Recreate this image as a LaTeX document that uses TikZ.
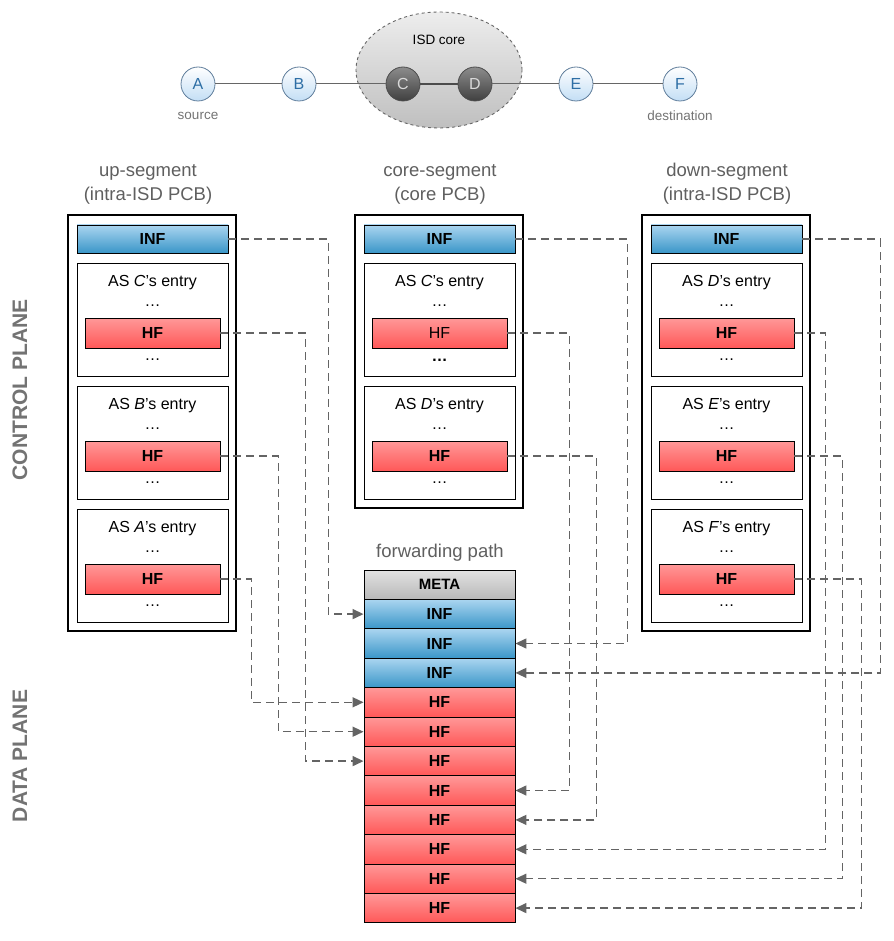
\documentclass[tikz,border=0pt]{standalone}
\usepackage{fontspec}
\setmainfont{Liberation Sans}
\usetikzlibrary{shapes.geometric,arrows.meta}
\definecolor{infTop}{RGB}{170,213,240}
\definecolor{infBot}{RGB}{58,150,200}
\definecolor{hfTop}{RGB}{255,152,152}
\definecolor{hfBot}{RGB}{255,88,88}
\definecolor{metaTop}{RGB}{226,226,226}
\definecolor{metaBot}{RGB}{184,184,184}
\definecolor{hdrGray}{RGB}{95,95,95}
\definecolor{planeGray}{RGB}{115,115,115}
\definecolor{connGray}{RGB}{100,100,100}
\definecolor{nodeBlue}{RGB}{45,110,165}
\definecolor{nodeBorder}{RGB}{95,125,155}
\definecolor{nodeFill}{RGB}{195,222,245}
\newcommand{\fs}[1]{\fontsize{#1}{#1}\selectfont}
\newcommand{\asentry}[6]{%
  \node[entrybox] (#1) at (#2,#3+56.5) {};
  \node[txt] (#1t) at (#2,#3+20) {AS \textit{#4}’s entry};
  \node[txt] (#1da) at (#2,#3+43) {…};
  \node[hfbar,#5] (#1hf) at (#2,#3+70) {HF};
  \node[txt,#6] (#1db) at (#2,#3+97) {…};
}
\begin{document}
\begin{tikzpicture}[x=1pt,y=-1pt,
  txt/.style={inner sep=0pt,font=\fs{16}},
  hdr/.style={inner sep=0pt,font=\fs{18.5},text=hdrGray},
  plane/.style={inner sep=0pt,font=\bfseries\fs{21},text=planeGray,rotate=90},
  outerbox/.style={draw=black,line width=1.8,inner sep=0pt},
  entrybox/.style={draw=black,line width=0.9,minimum width=151,minimum height=113,inner sep=0pt},
  infbar/.style={draw=black,line width=0.9,minimum width=151,minimum height=28,inner sep=0pt,
    top color=infTop,bottom color=infBot,font=\bfseries\fs{16}},
  hfbar/.style={draw=black,line width=0.9,minimum width=135,minimum height=30,inner sep=0pt,
    top color=hfTop,bottom color=hfBot,font=\bfseries\fs{16}},
  row/.style={draw=black,line width=0.9,minimum width=151,minimum height=29.4,inner sep=0pt,font=\bfseries\fs{16}},
  rowinf/.style={row,top color=infTop,bottom color=infBot},
  rowhf/.style={row,top color=hfTop,bottom color=hfBot},
  rowmeta/.style={row,top color=metaTop,bottom color=metaBot,font=\bfseries\fs{15}},
  conn/.style={draw=connGray,line width=1.5,dash pattern=on 8pt off 5pt,
    -{Triangle[length=11pt,width=10pt]}},
  asnode/.style={circle,draw=nodeBorder,line width=0.8,minimum size=34,inner sep=0pt,
    top color=white,bottom color=nodeFill,text=nodeBlue,font=\fs{16}},
  corenode/.style={circle,draw=black!70,line width=0.8,minimum size=34,inner sep=0pt,
    top color=black!45,bottom color=black!75,text=black!15,font=\fs{16}},
  small/.style={inner sep=0pt,font=\fs{13.5},text=black!55},
  link/.style={draw=black!60,line width=1}
]
\useasboundingbox (0,0) rectangle (893,941);

% ---- top: ISD topology
\node[ellipse,draw=black!60,dashed,line width=0.9,minimum width=166,minimum height=116,
  top color=black!7,bottom color=black!25] (core) at (439,70) {};
\node[inner sep=0pt,font=\fs{13.5}] (coretxt) at (439,40) {ISD core};
\node[asnode] (A) at (198,84) {A};
\node[asnode] (B) at (299,84) {B};
\node[corenode] (C) at (403,84) {C};
\node[corenode] (D) at (475,84) {D};
\node[asnode] (E) at (576,84) {E};
\node[asnode] (F) at (680,84) {F};
\draw[link] (A) -- (B);
\draw[link] (B) -- (C);
\draw[draw=black!70,line width=2] (C) -- (D);
\draw[link] (D) -- (E);
\draw[link] (E) -- (F);
\node[small] (src) at (198,116) {source};
\node[small] (dst) at (680,116) {destination};

% ---- plane labels
\node[plane] (cp) at (20,390) {CONTROL PLANE};
\node[plane] (dp) at (20,756) {DATA PLANE};

% ---- headers
\node[hdr] (h1a) at (148,172) {up-segment};
\node[hdr] (h1b) at (148,196) {(intra-ISD PCB)};
\node[hdr] (h2a) at (440,172) {core-segment};
\node[hdr] (h2b) at (440,196) {(core PCB)};
\node[hdr] (h3a) at (727,172) {down-segment};
\node[hdr] (h3b) at (727,196) {(intra-ISD PCB)};

% ---- outer boxes
\node[outerbox,minimum width=168,minimum height=416] (upbox) at (152,423) {};
\node[outerbox,minimum width=168,minimum height=293] (corebox) at (439,361.5) {};
\node[outerbox,minimum width=168,minimum height=416] (downbox) at (726,423) {};

% ---- up segment
\node[infbar] (uinf) at (152.5,239) {INF};
\asentry{uC}{152.5}{263}{C}{}{}
\asentry{uB}{152.5}{386}{B}{}{}
\asentry{uA}{152.5}{509}{A}{}{}

% ---- core segment
\node[infbar] (cinf) at (439.5,239) {INF};
\asentry{cC}{439.5}{263}{C}{font=\fs{16}}{font=\bfseries\fs{16}}
\asentry{cD}{439.5}{386}{D}{}{}

% ---- down segment
\node[infbar] (dinf) at (726.5,239) {INF};
\asentry{dD}{726.5}{263}{D}{}{}
\asentry{dE}{726.5}{386}{E}{}{}
\asentry{dF}{726.5}{509}{F}{}{}

% ---- forwarding path
\node[hdr] (fptxt) at (440,553) {forwarding path};
\node[rowmeta] (meta) at (439.5,584.7) {META};
\node[rowinf] (i1) at (439.5,614.1) {INF};
\node[rowinf] (i2) at (439.5,643.5) {INF};
\node[rowinf] (i3) at (439.5,672.9) {INF};
\node[rowhf] (f1) at (439.5,702.3) {HF};
\node[rowhf] (f2) at (439.5,731.7) {HF};
\node[rowhf] (f3) at (439.5,761.1) {HF};
\node[rowhf] (f4) at (439.5,790.5) {HF};
\node[rowhf] (f5) at (439.5,819.9) {HF};
\node[rowhf] (f6) at (439.5,849.3) {HF};
\node[rowhf] (f7) at (439.5,878.7) {HF};
\node[rowhf] (f8) at (439.5,908.1) {HF};

% ---- connectors
\draw[conn] (uinf.east) -- ++(100,0) |- (i1.west);
\draw[conn] (uChf.east) -- ++(85,0) |- (f3.west);
\draw[conn] (uBhf.east) -- ++(58,0) |- (f2.west);
\draw[conn] (uAhf.east) -- ++(31,0) |- (f1.west);
\draw[conn] (cinf.east) -- ++(112,0) |- (i2.east);
\draw[conn] (cChf.east) -- ++(62,0) |- (f4.east);
\draw[conn] (cDhf.east) -- ++(89,0) |- (f5.east);
\draw[conn] (dinf.east) -- ++(78,0) |- (i3.east);
\draw[conn] (dDhf.east) -- ++(31,0) |- (f6.east);
\draw[conn] (dEhf.east) -- ++(48,0) |- (f7.east);
\draw[conn] (dFhf.east) -- ++(67,0) |- (f8.east);
\end{tikzpicture}
\end{document}
